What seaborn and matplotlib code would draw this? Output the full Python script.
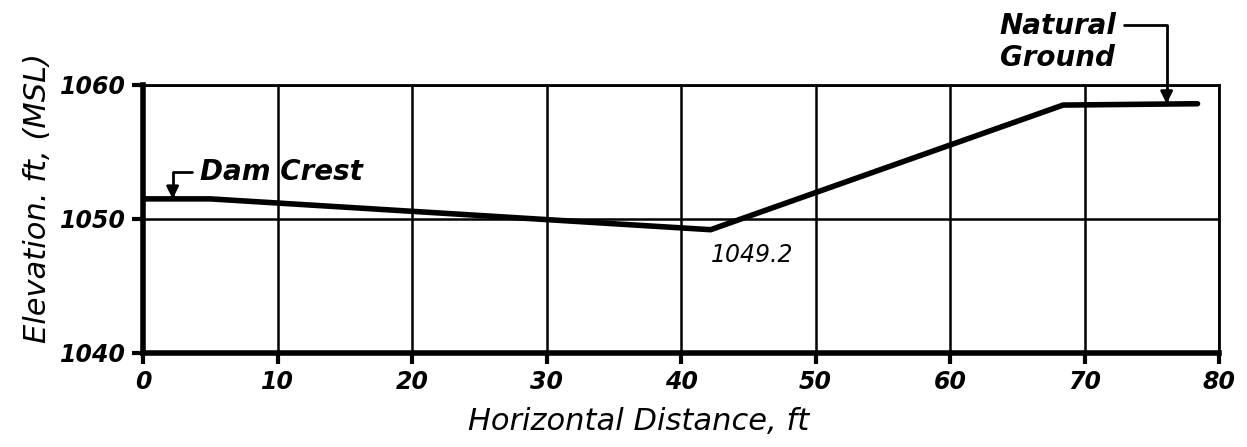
import seaborn as sns
import matplotlib.pyplot as plt
import pandas as pd

# profile
dist_ft = [0, 5, 42.2, 68.4, 78.4]
elev_ft = [1051.5, 1051.5, 1049.2, 1058.5, 1058.6]
x_ticks = [0, 10, 20, 30, 40, 50, 60, 70, 80]
y_ticks = [1040, 1050, 1060]

df = pd.DataFrame({'distance': dist_ft, 'elevation': elev_ft})

sns.set_style('ticks')
plt.rcParams['font.family'] = ['DejaVu Sans']
plt.rcParams['text.color'] = 'black'
plt.rcParams['axes.labelcolor'] = 'black'

fig = plt.figure(figsize=(12.47, 4.47), dpi=100)
ax = fig.add_axes([0.1147, 0.2103, 0.8629, 0.5996])

sns.lineplot(data=df, x='distance', y='elevation', color='black',
             linewidth=4, ax=ax)

ax.set_xlim(0, 80)
ax.set_ylim(1040, 1060)
ax.set_xticks(x_ticks)
ax.set_yticks(y_ticks)
ax.grid(True, color='black', linewidth=1.8)

for side in ['left', 'bottom']:
    ax.spines[side].set_linewidth(4)
for side in ['top', 'right']:
    ax.spines[side].set_linewidth(2)
for sp in ax.spines.values():
    sp.set_color('black')
    sp.set_visible(True)

ax.tick_params(direction='out', length=8, width=3, colors='black', labelsize=17,
               bottom=True, left=True, top=False, right=False)
ax.tick_params(axis='x', pad=4)
ax.tick_params(axis='y', pad=4)
for lbl in ax.get_xticklabels() + ax.get_yticklabels():
    lbl.set_style('italic')
    lbl.set_weight('bold')

ax.set_xlabel('Horizontal Distance, ft', fontsize=22, style='italic', color='black')
ax.set_ylabel('Elevation. ft, (MSL)', fontsize=22, style='italic', color='black')
ax.xaxis.set_label_coords(0.461, -0.2)
ax.yaxis.set_label_coords(-0.085, 0.58)

# low point label
i_min = elev_ft.index(min(elev_ft))
ax.text(dist_ft[i_min], 1047.3, f'{elev_ft[i_min]:.1f}', fontsize=17,
        style='italic', ha='left', va='center', color='black')

ax.annotate('Dam Crest', xy=(2.2, elev_ft[0]), xytext=(4.2, 1053.5),
            ha='left', va='center', fontsize=20, style='italic', weight='bold',
            color='black',
            arrowprops=dict(arrowstyle='-|>', color='black', lw=2,
                            mutation_scale=18, relpos=(0, 0.5),
                            connectionstyle='angle,angleA=0,angleB=90,rad=0',
                            shrinkA=3, shrinkB=0))

ax.annotate('Natural\nGround', xy=(76.1, elev_ft[-1]), xytext=(63.7, 1063.2),
            ha='left', va='center', fontsize=20, style='italic', weight='bold',
            color='black', linespacing=1.2, annotation_clip=False,
            arrowprops=dict(arrowstyle='-|>', color='black', lw=2,
                            mutation_scale=18, relpos=(1, 0.78),
                            connectionstyle='angle,angleA=0,angleB=90,rad=0',
                            shrinkA=3, shrinkB=0))

plt.savefig('out.png', dpi=100)
